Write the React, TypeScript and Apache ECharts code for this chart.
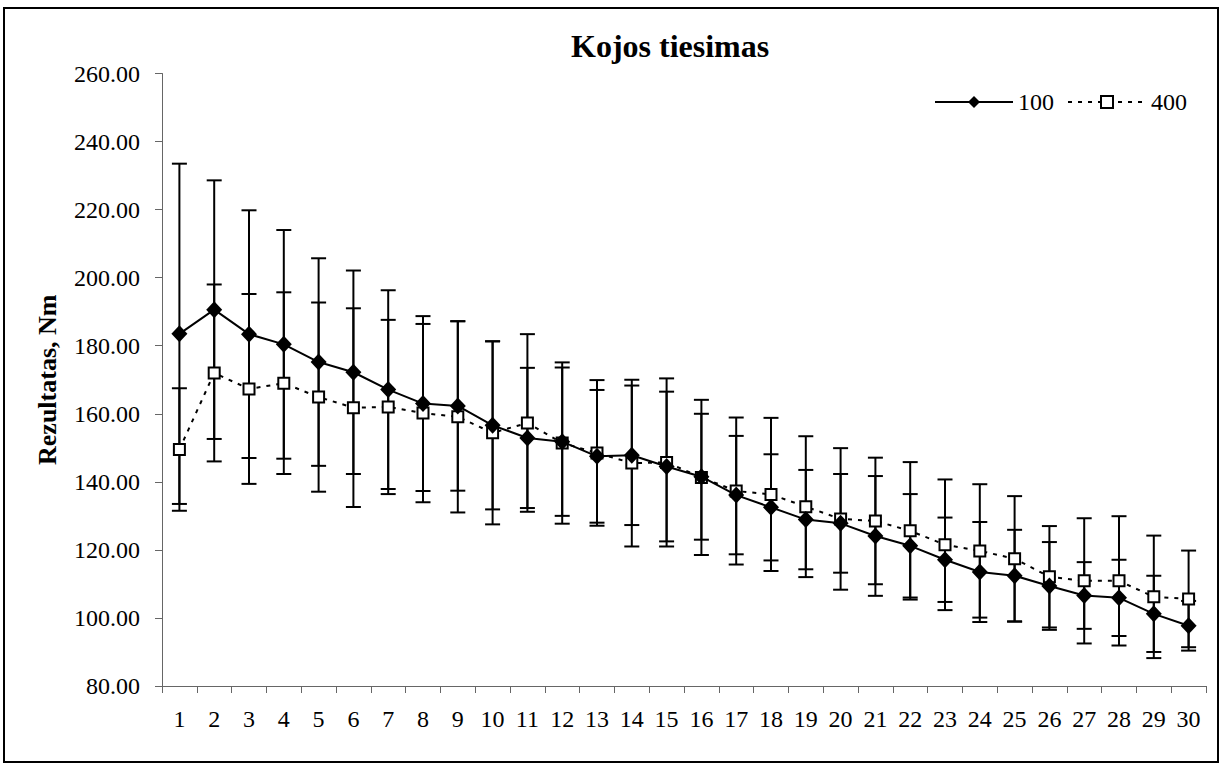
import React, { useEffect, useRef } from "react";
import * as echarts from "echarts";

const categories = ["1","2","3","4","5","6","7","8","9","10","11","12","13","14","15","16","17","18","19","20","21","22","23","24","25","26","27","28","29","30"];

const mean100 = [183.5,190.6,183.4,180.4,175.2,172.2,167.1,163.0,162.3,156.6,152.9,151.8,147.5,147.8,144.5,141.5,136.1,132.5,128.9,127.8,124.1,121.2,117.1,113.5,112.4,109.4,106.6,105.9,101.2,97.7];
const sd100 = [50.0,38.0,36.4,33.6,30.5,29.9,29.2,25.7,24.9,24.7,20.6,21.8,19.5,20.5,22.0,18.5,17.4,15.6,14.6,14.5,17.6,15.2,12.4,14.7,13.5,12.9,9.8,11.2,11.2,7.3];

const mean400 = [149.5,172.0,167.3,169.0,164.9,161.8,162.0,160.2,159.1,154.4,157.3,151.4,148.5,145.5,145.7,141.3,137.3,136.3,132.7,129.1,128.5,125.6,121.5,119.7,117.4,112.1,110.9,110.9,106.2,105.6];
const sd400 = [18.0,26.0,27.9,26.7,27.8,29.2,25.6,26.2,28.1,26.9,26.1,23.7,21.4,24.5,24.7,22.8,21.6,22.5,20.7,20.8,18.6,20.2,19.2,19.6,18.4,14.9,18.4,19.0,18.0,14.2];

const seriesNames = ["100", "400"];
const yTicks = { min: 80, max: 260, interval: 20 };

const FONT = "'Liberation Serif', 'Times New Roman', serif";

function errData(means: number[], sds: number[]) {
  return means.map((m, i) => [i, m - sds[i], m + sds[i]]);
}

function errorRender(params: any, api: any) {
  const x = api.value(0);
  const lo = api.coord([x, api.value(1)]);
  const hi = api.coord([x, api.value(2)]);
  const hw = 7.5;
  const st = { stroke: "#000", lineWidth: 2 };
  return {
    type: "group",
    children: [
      { type: "line", shape: { x1: hi[0], y1: hi[1], x2: lo[0], y2: lo[1] }, style: st },
      { type: "line", shape: { x1: hi[0] - hw, y1: hi[1], x2: hi[0] + hw, y2: hi[1] }, style: st },
      { type: "line", shape: { x1: lo[0] - hw, y1: lo[1], x2: lo[0] + hw, y2: lo[1] }, style: st },
    ],
  };
}

export default function App() {
  const ref = useRef<HTMLDivElement>(null);
  useEffect(() => {
    if (!ref.current) return;
    const chart = echarts.init(ref.current, null, { renderer: "svg" });
    chart.setOption({
      animation: false,
      backgroundColor: "#fff",
      textStyle: { fontFamily: FONT, color: "#000" },
      title: {
        text: "Kojos tiesimas",
        left: 566,
        top: 25,
        textStyle: { fontFamily: FONT, fontSize: 32, fontWeight: "bold", color: "#000" },
      },
      legend: {
        data: [seriesNames[0], seriesNames[1]],
        right: 30,
        top: 85,
        itemWidth: 78,
        itemHeight: 15,
        itemGap: 13,
        textStyle: { fontFamily: FONT, fontSize: 24, color: "#000" },
      },
      grid: { left: 162, right: 16, top: 73.5, bottom: 81, containLabel: false },
      xAxis: {
        type: "category",
        data: categories,
        boundaryGap: true,
        axisLine: { lineStyle: { color: "#666", width: 1 } },
        axisTick: { show: true, length: 7, inside: false, lineStyle: { color: "#666" } },
        axisLabel: { fontFamily: FONT, fontSize: 24, color: "#000", margin: 21, interval: 0 },
        splitLine: { show: false },
      },
      yAxis: {
        type: "value",
        min: yTicks.min,
        max: yTicks.max,
        interval: yTicks.interval,
        name: "Rezultatas, Nm",
        nameLocation: "middle",
        nameGap: 102,
        nameTextStyle: { fontFamily: FONT, fontSize: 26, fontWeight: "bold", color: "#000" },
        axisLine: { show: true, lineStyle: { color: "#666", width: 1 } },
        axisTick: { show: true, length: 7, lineStyle: { color: "#666" } },
        axisLabel: {
          fontFamily: FONT,
          fontSize: 24,
          color: "#000",
          margin: 22,
          formatter: (v: number) => v.toFixed(2),
        },
        splitLine: { show: false },
      },
      series: [
        {
          type: "custom",
          name: "err100",
          renderItem: errorRender,
          data: errData(mean100, sd100),
          encode: { x: 0, y: [1, 2] },
          z: 1,
          silent: true,
        },
        {
          type: "custom",
          name: "err400",
          renderItem: errorRender,
          data: errData(mean400, sd400),
          encode: { x: 0, y: [1, 2] },
          z: 1,
          silent: true,
        },
        {
          type: "line",
          name: seriesNames[1],
          data: mean400,
          symbol: "rect",
          symbolSize: 11,
          itemStyle: { color: "#fff", borderColor: "#000", borderWidth: 2 },
          lineStyle: { color: "#000", width: 2, type: [4, 6] },
          z: 3,
        },
        {
          type: "line",
          name: seriesNames[0],
          data: mean100,
          symbol: "diamond",
          symbolSize: [16, 17],
          itemStyle: { color: "#000", borderColor: "#000", borderWidth: 0 },
          lineStyle: { color: "#000", width: 2, type: "solid" },
          z: 4,
        },
      ],
      graphic: [
        {
          type: "rect",
          shape: { x: 4, y: 8, width: 1214, height: 754 },
          style: { fill: "none", stroke: "#000", lineWidth: 2 },
          silent: true,
          z: 100,
        },
      ],
    });
    return () => chart.dispose();
  }, []);
  return (
    <div
      ref={ref}
      style={{ position: "absolute", left: 0, top: 0, width: 1222, height: 767 }}
    />
  );
}
